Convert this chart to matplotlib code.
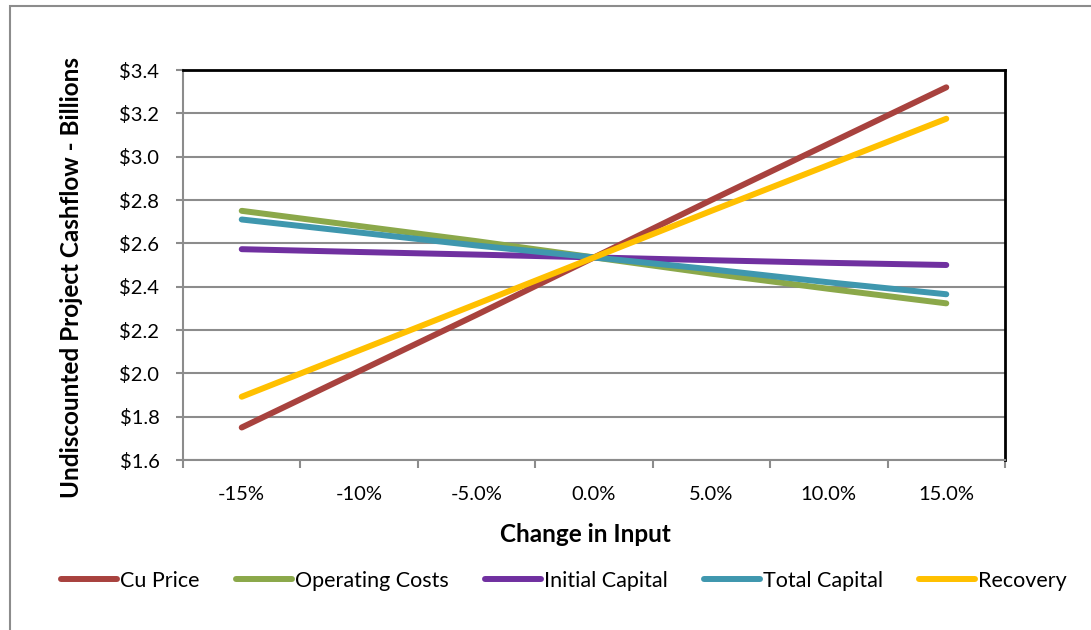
import matplotlib.pyplot as plt
from matplotlib.patches import Rectangle

plt.rcParams['font.family'] = ['Lato', 'DejaVu Sans']

# Dane
kategorie = ['-15%', '-10%', '-5.0%', '0.0%', '5.0%', '10.0%', '15.0%']
cu_price = [1.75, 2.01, 2.27, 2.535, 2.80, 3.06, 3.32]
operating_costs = [2.75, 2.68, 2.61, 2.535, 2.46, 2.39, 2.323]
initial_capital = [2.573, 2.56, 2.548, 2.535, 2.522, 2.51, 2.50]
total_capital = [2.71, 2.65, 2.59, 2.535, 2.48, 2.42, 2.365]
recovery = [1.892, 2.106, 2.32, 2.535, 2.75, 2.962, 3.175]

serie = [
    ("Cu Price", cu_price, "#A8423E"),
    ("Operating Costs", operating_costs, "#8BA84A"),
    ("Initial Capital", initial_capital, "#7030A0"),
    ("Total Capital", total_capital, "#3F97AE"),
    ("Recovery", recovery, "#FFC000"),
]

fig = plt.figure(figsize=(10.91, 6.30), dpi=100)
ax = fig.add_axes([183/1091, 1 - 460/630, (1005-183)/1091, (460-70)/630])

x = range(len(kategorie))
for nazwa, wartosci, kolor in serie:
    ax.plot(x, wartosci, color=kolor, lw=4.3, solid_capstyle='round', label=nazwa, zorder=3)

ax.set_xlim(-0.5, len(kategorie) - 0.5)
ax.set_ylim(1.6, 3.4)
ax.set_yticks([1.6 + 0.2*i for i in range(10)])
ax.set_yticklabels(['$%.1f' % (1.6 + 0.2*i) for i in range(10)], fontsize=14.5)
ax.yaxis.grid(True, color='#8c8c8c', lw=1.5, zorder=1)

ax.set_xticks(list(x))
ax.set_xticklabels(kategorie, fontsize=14.5)
ax.set_xticks([i - 0.5 for i in range(len(kategorie) + 1)], minor=True)
ax.tick_params(axis='x', which='major', length=0, pad=19)
ax.tick_params(axis='x', which='minor', length=6, width=1.5, color='#8c8c8c')
ax.tick_params(axis='y', length=5, width=1.5, color='#8c8c8c', pad=12)

for s in ['left', 'bottom']:
    ax.spines[s].set_color('#8c8c8c')
    ax.spines[s].set_linewidth(1.5)
for s in ['top', 'right']:
    ax.spines[s].set_color('black')
    ax.spines[s].set_linewidth(2)

# Opisy osi
fig.text(72/1091, 1 - 277/630, 'Undiscounted Project Cashflow - Billions', rotation=90,
         ha='center', va='center', fontsize=17.5, fontweight='bold')
fig.text(585/1091, 1 - 535/630, 'Change in Input', ha='center', va='center',
         fontsize=17.5, fontweight='bold')

leg = fig.legend(loc='center', bbox_to_anchor=(564/1091, 1 - 581/630), ncol=5, frameon=False,
                 fontsize=15.5, handlelength=2.6, handletextpad=0.15, columnspacing=1.67)
for linia in leg.get_lines():
    linia.set_linewidth(4.3)
    linia.set_solid_capstyle('round')

# Ramka wykresu
fig.patches.append(Rectangle((10/1091, -0.05), 1.2, 1 - 6/630 + 0.05, transform=fig.transFigure,
                             fill=False, edgecolor='#8c8c8c', lw=1.5))

fig.savefig('out.png', dpi=100)
